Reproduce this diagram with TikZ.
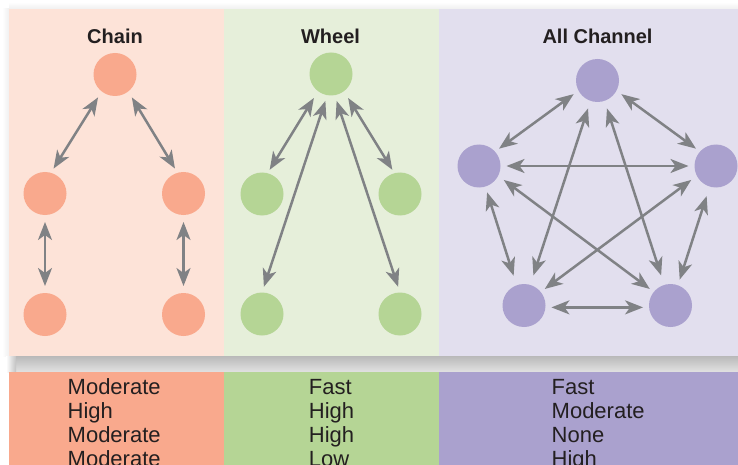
\documentclass[tikz,border=0pt]{standalone}
\usepackage{fontspec}
\setmainfont{Liberation Sans}
\usetikzlibrary{arrows.meta}
\definecolor{chainbg}{HTML}{FDE3D8}
\definecolor{wheelbg}{HTML}{E6EFDA}
\definecolor{allbg}{HTML}{E2DFEE}
\definecolor{chainfg}{HTML}{F9A98D}
\definecolor{wheelfg}{HTML}{B5D595}
\definecolor{allfg}{HTML}{AAA1CE}
\definecolor{arrowgray}{HTML}{808285}
\definecolor{ink}{HTML}{231F20}
\definecolor{shadowtop}{HTML}{B9B9B9}
\definecolor{shadowbot}{HTML}{E2E2E2}
\tikzset{
  dot/.style={circle, minimum size=43pt, inner sep=0pt, outer sep=0pt, draw=none},
  arr/.style={draw=arrowgray, line width=2.5pt,
    {Stealth[length=18pt,width=14pt,inset=5pt]}-{Stealth[length=18pt,width=14pt,inset=5pt]}},
  gap/.style 2 args={shorten <=#1pt, shorten >=#2pt},
  head/.style={font=\fontsize{20}{24}\selectfont\bfseries, text=ink, anchor=base, inner sep=0pt},
  rowtext/.style={font=\fontsize{22}{24}\selectfont, text=ink, anchor=base west, inner sep=0pt}
}
\begin{document}
\begin{tikzpicture}[x=1pt,y=-1pt]
\useasboundingbox (0,0) rectangle (738,465);
\clip (0,0) rectangle (738,465);
% faint shadows round the top panel
\shade[top color=white, bottom color=black!6] (9,2) rectangle (738,9);
\shade[left color=white, right color=black!6] (2,9) rectangle (9,356);
\shade[top color=shadowtop, bottom color=shadowbot] (16,356) rectangle (738,372);
\shade[left color=white, right color=black!24] (6,356) rectangle (16,372);
% top panels
\fill[chainbg] (9,9) rectangle (223.5,356);
\fill[wheelbg] (223.5,9) rectangle (438.5,356);
\fill[allbg] (438.5,9) rectangle (738,356);
% bottom bars
\fill[chainfg] (9,372) rectangle (223.5,465);
\fill[wheelfg] (223.5,372) rectangle (438.5,465);
\fill[allfg] (438.5,372) rectangle (738,465);
% headings
\node[head] (hchain) at (115,43.3) {Chain};
\node[head] (hwheel) at (330.5,43.3) {Wheel};
\node[head] (hall) at (597.5,43.3) {All Channel};
% chain nodes
\node[dot, fill=chainfg] (ct) at (115,74.5) {};
\node[dot, fill=chainfg] (cml) at (45,193.5) {};
\node[dot, fill=chainfg] (cmr) at (183.5,193.5) {};
\node[dot, fill=chainfg] (cbl) at (45,314.5) {};
\node[dot, fill=chainfg] (cbr) at (183.5,314.5) {};
\draw[arr, gap={7}{5}] (ct.232) -- (cml.74);
\draw[arr, gap={7}{5}] (ct.308) -- (cmr.106);
\draw[arr, gap={7}{7}] (cml.south) -- (cbl.north);
\draw[arr, gap={7}{7}] (cmr.south) -- (cbr.north);
% wheel nodes
\node[dot, fill=wheelfg] (wt) at (331,74) {};
\node[dot, fill=wheelfg] (wml) at (262,194) {};
\node[dot, fill=wheelfg] (wmr) at (400,194) {};
\node[dot, fill=wheelfg] (wbl) at (262,314) {};
\node[dot, fill=wheelfg] (wbr) at (400,314) {};
\draw[arr, gap={8}{4}] (wt.233) -- (wml.75);
\draw[arr, gap={6}{6}] (wt.260) -- (wbl.90);
\draw[arr, gap={6}{6}] (wt.280) -- (wbr.90);
\draw[arr, gap={8}{4}] (wt.307) -- (wmr.105);
% all channel nodes
\node[dot, fill=allfg] (at) at (597.5,80.5) {};
\node[dot, fill=allfg] (al) at (479,166) {};
\node[dot, fill=allfg] (ar) at (716,166) {};
\node[dot, fill=allfg] (abl) at (524,305.5) {};
\node[dot, fill=allfg] (abr) at (670.5,305.5) {};
\draw[arr, gap={6}{5}] (at.208) -- (al.42);
\draw[arr, gap={6}{5}] (at.332) -- (ar.138);
\draw[arr, gap={6}{6}] (al.0) -- (ar.180);
\draw[arr, gap={8}{10}] (at.251) -- (abl.73);
\draw[arr, gap={8}{10}] (at.289) -- (abr.107);
\draw[arr, gap={7}{5}] (al.333) -- (abr.141);
\draw[arr, gap={7}{5}] (ar.207) -- (abl.39);
\draw[arr, gap={6}{10}] (al.287) -- (abl.110);
\draw[arr, gap={10}{6}] (ar.253) -- (abr.70);
\draw[arr, gap={6}{6}] (abl.-5) -- (abr.185);
% bottom texts
\node[rowtext] (c1) at (67.5,394.5) {Moderate};
\node[rowtext] (c2) at (67.5,418.5) {High};
\node[rowtext] (c3) at (67.5,442.5) {Moderate};
\node[rowtext] (c4) at (67.5,466.5) {Moderate};
\node[rowtext] (w1) at (308.7,394.5) {Fast};
\node[rowtext] (w2) at (308.7,418.5) {High};
\node[rowtext] (w3) at (308.7,442.5) {High};
\node[rowtext] (w4) at (308.7,466.5) {Low};
\node[rowtext] (a1) at (551.5,394.5) {Fast};
\node[rowtext] (a2) at (551.5,418.5) {Moderate};
\node[rowtext] (a3) at (551.5,442.5) {None};
\node[rowtext] (a4) at (551.5,466.5) {High};
\end{tikzpicture}
\end{document}
